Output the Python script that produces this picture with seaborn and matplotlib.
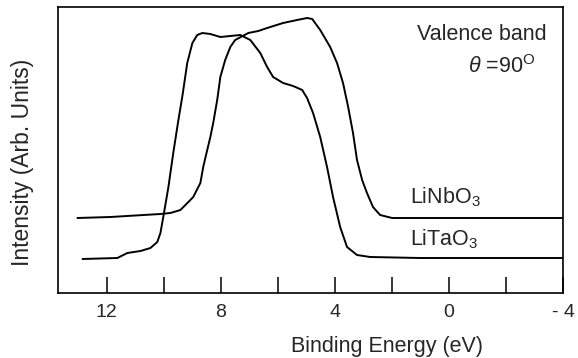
import matplotlib
matplotlib.use("Agg")
import matplotlib.pyplot as plt
import seaborn as sns
import pandas as pd

# Binding energy (eV) and intensity (arb. units)
linbo3_energy = [13.02, 11.86, 10.70, 10.11, 9.76, 9.41, 9.13, 8.96, 8.71, 8.61, 8.47,
                 8.36, 8.26, 8.12, 8.01, 7.84, 7.66, 7.49, 7.03, 6.68, 6.37, 5.81,
                 5.32, 4.97, 4.79, 4.51, 4.16, 3.92, 3.71, 3.53, 3.36, 3.22, 3.04,
                 2.87, 2.66, 2.41, 1.99, 1.01, -4.0]
linbo3_intensity = [75, 76, 78, 79, 80, 83, 91, 96, 110, 126, 143,
                    156, 170, 193, 216, 233, 246, 253, 260, 262, 265, 270,
                    273, 275, 274, 263, 246, 230, 210, 186, 160, 133, 113,
                    100, 86, 78, 75, 75, 75]

litao3_energy = [12.84, 11.62, 11.27, 10.81, 10.46, 10.22, 10.11, 10.01, 9.83, 9.66,
                 9.48, 9.34, 9.17, 8.99, 8.82, 8.64, 8.36, 8.01, 7.66, 7.31, 6.96,
                 6.61, 6.37, 6.16, 5.81, 5.46, 5.14, 4.97, 4.76, 4.51, 4.27, 4.06,
                 3.81, 3.57, 3.22, 2.76, 1.01, -4.0]
litao3_intensity = [34, 35, 40, 42, 45, 51, 60, 76, 106, 140,
                    173, 197, 230, 250, 258, 260, 259, 256, 257, 258, 253,
                    240, 226, 216, 210, 207, 203, 195, 180, 156, 126, 96,
                    66, 46, 38, 36, 35, 35]

tick_positions = [12, 10, 8, 6, 4, 2, 0, -2, -4]
tick_labels = ["12", "", "8", "", "4", "", "0", "", "- 4"]

sns.set_style("white")
plt.rcParams["font.family"] = ["Liberation Sans", "DejaVu Sans"]
plt.rcParams["mathtext.fontset"] = "custom"
plt.rcParams["mathtext.rm"] = "Liberation Sans"
plt.rcParams["mathtext.it"] = "Liberation Sans:italic"

df = pd.concat([
    pd.DataFrame({"energy": linbo3_energy, "intensity": linbo3_intensity, "sample": "LiNbO3"}),
    pd.DataFrame({"energy": litao3_energy, "intensity": litao3_intensity, "sample": "LiTaO3"}),
])

fig = plt.figure(figsize=(5.78, 3.58), dpi=100)
ax = fig.add_axes([58 / 578, (358 - 293) / 358, 505 / 578, 286 / 358])

sns.lineplot(data=df, x="energy", y="intensity", units="sample", estimator=None,
             sort=False, color="black", linewidth=1.4, ax=ax, legend=False)

ax.set_xlim(13.7, -4.0)
ax.set_ylim(0, 286)
ax.set_xticks(tick_positions)
ax.set_xticklabels(tick_labels, fontsize=14)
ax.set_yticks([])
ax.tick_params(axis="x", bottom=True, direction="in", length=11.5, width=1.1,
               pad=8, color="black")
for s in ax.spines.values():
    s.set_visible(True)
    s.set_color("black")
    s.set_linewidth(1.2)

ax.set_xlabel("Binding Energy (eV)", fontsize=15.5)
ax.set_ylabel("Intensity (Arb. Units)", fontsize=16.5)
ax.xaxis.set_label_coords(0.651, -0.152)
ax.yaxis.set_label_coords(-0.048, 0.458)

ax.text(0.711, 0.885, "Valence band", transform=ax.transAxes, fontsize=15.5,
        ha="left", va="baseline")
ax.text(0.812, 0.769, r"$\theta$ =90$^{\rm O}$", transform=ax.transAxes, fontsize=15.5,
        ha="left", va="baseline")
ax.text(0.697, 0.315, r"LiNbO$_{3}$", transform=ax.transAxes, fontsize=15.5,
        ha="left", va="baseline")
ax.text(0.697, 0.168, r"LiTaO$_{3}$", transform=ax.transAxes, fontsize=15.5,
        ha="left", va="baseline")

fig.savefig("out.png", dpi=100)
